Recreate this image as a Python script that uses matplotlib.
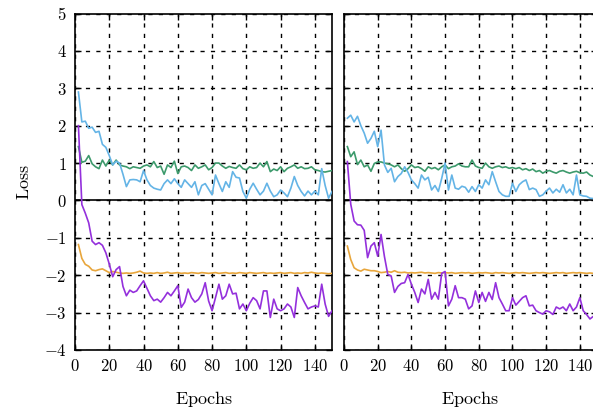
import matplotlib
matplotlib.use("Agg")
import matplotlib.pyplot as plt
import numpy as np

plt.rcParams['mathtext.fontset'] = 'cm'
plt.rcParams['font.family'] = ['DejaVu Serif']

epochs = list(range(2, 151, 2))

left_blue = [2.9, 2.1, 2.12, 1.93, 1.96, 1.82, 1.85, 1.5, 1.42, 1.2,
             0.95, 1.05, 1.0, 0.7, 0.37, 0.55, 0.56, 0.55, 0.5, 0.8,
             0.55, 0.4, 0.33, 0.3, 0.28, 0.45, 0.55, 0.45, 0.58, 0.45,
             0.35, 0.55, 0.45, 0.35, 0.5, 0.15, 0.4, 0.45, 0.3, 0.15,
             0.68, 0.45, 0.24, 0.5, 0.35, 0.77, 0.62, 0.6, 0.24, 0.06,
             0.3, 0.46, 0.3, 0.15, 0.25, 0.46, 0.25, 0.1, 0.15, 0.28,
             0.2, 0.1, 0.33, 0.64, 0.4, 0.24, 0.12, 0.25, 0.15, 0.25,
             0.15, 0.85, 0.4, 0.06, 0.24]
left_green = [1.44, 1.02, 1.05, 1.2, 0.98, 0.9, 0.85, 1.08, 0.92, 1.08,
              0.95, 1.08, 0.95, 0.92, 0.9, 0.85, 0.9, 0.88, 0.86, 0.92,
              0.95, 0.9, 1.04, 0.88, 0.92, 0.7, 0.95, 0.88, 1.05, 0.72,
              0.9, 0.92, 0.88, 0.8, 0.95, 0.86, 0.9, 0.95, 0.82, 0.88,
              1.0, 1.0, 0.92, 0.86, 0.91, 0.88, 0.86, 0.95, 0.85, 0.82,
              0.9, 0.86, 0.88, 1.0, 0.9, 1.04, 0.77, 0.84, 0.8, 0.9,
              0.77, 0.86, 0.9, 0.95, 0.86, 0.9, 0.85, 0.86, 0.9, 0.82,
              0.8, 0.77, 0.76, 0.78, 0.8]
left_purple = [2.0, -0.11, -0.34, -0.6, -1.09, -1.18, -1.13, -1.2, -1.4, -1.7,
               -2.04, -1.85, -1.77, -2.3, -2.55, -2.4, -2.46, -2.42, -2.28, -2.15,
               -2.35, -2.55, -2.68, -2.64, -2.72, -2.6, -2.46, -2.55, -2.42, -2.28,
               -2.86, -2.72, -2.37, -2.6, -2.72, -2.65, -2.5, -2.2, -2.69, -2.95,
               -2.6, -2.24, -2.64, -2.55, -2.24, -2.5, -2.48, -2.9, -2.77, -2.95,
               -2.75, -2.6, -2.68, -2.9, -2.42, -2.42, -3.13, -2.64, -2.9, -2.95,
               -2.9, -2.77, -2.85, -3.13, -2.33, -2.55, -2.73, -2.9, -2.85, -2.82,
               -2.85, -2.24, -2.77, -3.1, -2.95]
left_orange = [-1.18, -1.55, -1.71, -1.76, -1.86, -1.88, -1.85, -1.83, -1.88, -1.93,
               -1.9, -1.92, -1.94, -1.95, -1.94, -1.95, -1.94, -1.92, -1.89, -1.94,
               -1.95, -1.94, -1.95, -1.93, -1.95, -1.94, -1.92, -1.95, -1.94, -1.93,
               -1.95, -1.94, -1.95, -1.93, -1.94, -1.95, -1.93, -1.94, -1.95, -1.94,
               -1.93, -1.95, -1.94, -1.93, -1.95, -1.94, -1.95, -1.93, -1.94, -1.95,
               -1.93, -1.94, -1.95, -1.94, -1.93, -1.95, -1.94, -1.95, -1.94, -1.93,
               -1.95, -1.94, -1.93, -1.95, -1.94, -1.95, -1.93, -1.94, -1.92, -1.94,
               -1.95, -1.94, -1.95, -1.96, -1.95]

right_blue = [2.2, 2.28, 2.1, 2.25, 2.0, 1.8, 1.53, 1.66, 1.85, 1.44,
              1.88, 0.95, 0.75, 0.86, 0.5, 0.64, 0.72, 0.9, 0.75, 0.55,
              0.45, 0.33, 0.68, 0.55, 0.62, 0.28, 0.4, 0.24, 0.59, 1.0,
              0.28, 0.68, 0.33, 0.3, 0.38, 0.35, 0.22, 0.37, 0.24, 0.42,
              0.33, 0.55, 0.42, 0.77, 0.5, 0.24, 0.15, 0.11, 0.11, 0.46,
              0.24, 0.42, 0.5, 0.55, 0.29, 0.33, 0.29, 0.11, 0.15, 0.25,
              0.33, 0.2, 0.3, 0.22, 0.42, 0.2, 0.3, 0.15, 0.68, 0.15,
              0.12, 0.11, 0.06, 0.05, 0.05]
right_green = [1.44, 1.17, 1.3, 0.96, 1.08, 0.9, 0.95, 0.78, 0.99, 1.03,
               1.03, 1.0, 0.98, 0.95, 0.9, 0.95, 0.85, 0.78, 0.85, 0.95,
               0.88, 0.9, 0.85, 0.78, 0.9, 0.85, 0.88, 0.82, 0.9, 0.95,
               0.85, 0.9, 0.92, 0.98, 0.92, 0.9, 0.9, 1.08, 0.92, 0.88,
               0.86, 1.0, 0.9, 0.86, 0.9, 0.92, 0.88, 0.9, 0.86, 0.88,
               0.85, 0.88, 0.82, 0.85, 0.8, 0.84, 0.77, 0.8, 0.73, 0.78,
               0.8, 0.76, 0.73, 0.78, 0.8, 0.76, 0.73, 0.76, 0.78, 0.74,
               0.73, 0.76, 0.68, 0.64, 0.67]
right_purple = [1.04, -0.1, -0.55, -0.65, -0.66, -0.8, -1.53, -1.22, -1.13, -1.49,
                -0.91, -1.5, -1.98, -2.02, -2.46, -2.3, -2.22, -2.2, -1.98, -2.24,
                -2.46, -2.73, -2.37, -2.5, -2.11, -2.64, -2.46, -2.64, -1.95, -1.9,
                -2.82, -2.64, -2.28, -2.6, -2.6, -2.64, -2.9, -2.82, -2.42, -2.73,
                -2.46, -2.7, -2.46, -2.65, -2.2, -2.6, -2.77, -2.95, -2.95, -2.6,
                -2.8, -2.7, -2.6, -2.55, -2.82, -2.8, -2.95, -3.0, -3.04, -2.95,
                -2.98, -3.05, -2.85, -2.9, -2.85, -2.95, -2.77, -2.95, -2.85, -2.6,
                -2.95, -3.05, -3.17, -3.1, -3.25]
right_orange = [-1.22, -1.58, -1.8, -1.86, -1.89, -1.84, -1.86, -1.88, -1.88, -1.9,
                -1.93, -1.92, -1.9, -1.92, -1.88, -1.92, -1.93, -1.92, -1.94, -1.93,
                -1.94, -1.93, -1.92, -1.94, -1.93, -1.94, -1.95, -1.93, -1.94, -1.93,
                -1.94, -1.93, -1.95, -1.94, -1.93, -1.94, -1.93, -1.95, -1.94, -1.93,
                -1.94, -1.93, -1.94, -1.95, -1.93, -1.94, -1.93, -1.94, -1.95, -1.94,
                -1.93, -1.94, -1.93, -1.94, -1.95, -1.94, -1.93, -1.94, -1.93, -1.94,
                -1.95, -1.94, -1.93, -1.94, -1.93, -1.95, -1.94, -1.93, -1.94, -1.93,
                -1.94, -1.95, -1.94, -1.95, -1.95]

x_ticks = [0, 20, 40, 60, 80, 100, 120, 140]
y_ticks = [-4, -3, -2, -1, 0, 1, 2, 3, 4, 5]

c_blue = '#64b4e6'
c_green = '#3d9a6c'
c_purple = '#9430dc'
c_orange = '#e8a63c'

fig = plt.figure(figsize=(5.93, 4.13), dpi=100)
ax1 = fig.add_axes([75/593, 1 - 350/413, 257/593, 336.5/413])
ax2 = fig.add_axes([344/593, 1 - 350/413, 252.7/593, 336.5/413])

panels = [(ax1, left_blue, left_green, left_purple, left_orange),
          (ax2, right_blue, right_green, right_purple, right_orange)]

for ax, b, g, p, o in panels:
    ax.plot(epochs, g, color=c_green, lw=1.2, zorder=3)
    ax.plot(epochs, b, color=c_blue, lw=1.2, zorder=3)
    ax.plot(epochs, o, color=c_orange, lw=1.2, zorder=3)
    ax.plot(epochs, p, color=c_purple, lw=1.2, zorder=3)
    ax.axhline(0, color='k', lw=1.2, zorder=2)
    ax.set_xlim(0, 150)
    ax.set_ylim(-4, 5)
    ax.set_xticks(x_ticks)
    ax.set_yticks(y_ticks)
    ax.grid(True, color='k', linestyle=(0, (3, 4.5)), lw=1.0)
    ax.set_axisbelow(True)
    ax.tick_params(direction='in', top=True, right=True, length=4, width=1.0,
                   labelsize=12, pad=6)
    for s in ax.spines.values():
        s.set_linewidth(1.2)
    ax.set_xticklabels([f'${t}$' for t in x_ticks])
    ax.set_xlabel(r'$\mathrm{Epochs}$', fontsize=13, labelpad=10)

ax1.set_yticklabels([f'${t}$' for t in y_ticks])
ax1.set_ylabel(r'$\mathrm{Loss}$', fontsize=13, labelpad=8)
ax2.set_yticklabels([])

fig.savefig('out.png', dpi=100)
